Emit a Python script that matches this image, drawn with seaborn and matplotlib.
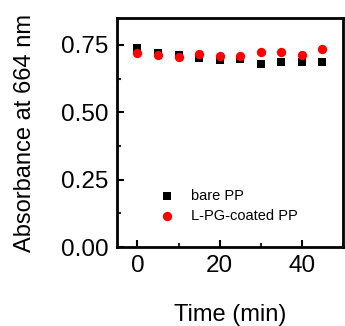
import matplotlib
matplotlib.use("Agg")
import matplotlib.pyplot as plt
import seaborn as sns
import pandas as pd
from matplotlib.ticker import MultipleLocator, FormatStrFormatter

time_min = [0, 5, 10, 15, 20, 25, 30, 35, 40, 45]
bare_pp = [0.740, 0.719, 0.713, 0.701, 0.694, 0.697, 0.680, 0.686, 0.686, 0.688]
coated_pp = [0.720, 0.712, 0.706, 0.715, 0.710, 0.707, 0.722, 0.724, 0.712, 0.734]

df_bare = pd.DataFrame({"Time": time_min, "Abs": bare_pp})
df_coat = pd.DataFrame({"Time": time_min, "Abs": coated_pp})

sns.set_style("ticks")
plt.rcParams["font.family"] = ["Liberation Sans", "DejaVu Sans"]
plt.rcParams["text.color"] = "black"
plt.rcParams["axes.labelcolor"] = "black"

fig = plt.figure(figsize=(3.45, 3.26), dpi=100)
ax = fig.add_axes([0.339, 0.242, 0.655, 0.703])

sns.scatterplot(data=df_bare, x="Time", y="Abs", color="black", marker="s",
                s=28, linewidth=0, label="bare PP", ax=ax)
sns.scatterplot(data=df_coat, x="Time", y="Abs", color="red", marker="o",
                s=45, linewidth=0, label="L-PG-coated PP", ax=ax)

ax.set_xlim(-5, 50)
ax.set_ylim(0, 0.85)
ax.xaxis.set_major_locator(MultipleLocator(20))
ax.xaxis.set_minor_locator(MultipleLocator(10))
ax.yaxis.set_major_locator(MultipleLocator(0.25))
ax.yaxis.set_minor_locator(MultipleLocator(0.125))
ax.yaxis.set_major_formatter(FormatStrFormatter("%.2f"))
ax.tick_params(which="major", direction="in", length=5, width=1.5, labelsize=17.5,
               top=False, right=False, colors="black", pad=6)
ax.tick_params(which="minor", direction="in", length=3, width=1.5, top=False, right=False)
for sp in ax.spines.values():
    sp.set_visible(True)
    sp.set_linewidth(2)
    sp.set_color("black")

ax.set_xlabel("Time (min)", fontsize=17, labelpad=19, color="black")
ax.set_ylabel("Absorbance at 664 nm", fontsize=17, labelpad=18, color="black")

ax.legend(loc="lower left", bbox_to_anchor=(0.1, 0.05), frameon=False,
          fontsize=10.5, handletextpad=0.6, labelspacing=0.4, markerscale=1.0)

fig.savefig("out.png", dpi=100)
